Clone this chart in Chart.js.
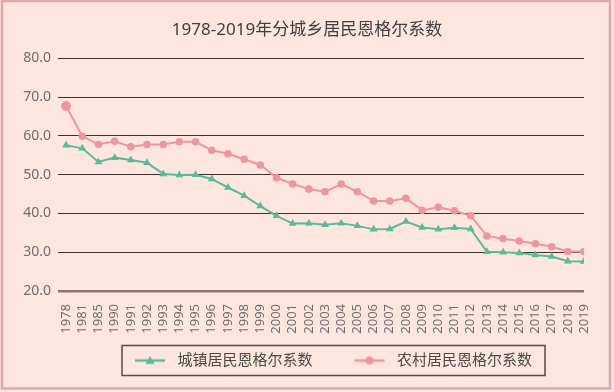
<!DOCTYPE html>
<html>
<head>
<meta charset="utf-8">
<script src="https://cdn.jsdelivr.net/npm/chart.js@4/dist/chart.umd.min.js"></script>
<style>
  html, body { margin: 0; padding: 0; background: #fce6dd; }
  #c { display: block; }
</style>
</head>
<body>
<canvas id="c" width="614" height="392"></canvas>
<script>
// ── DATA ──
const years = ['1978','1981','1985','1990','1991','1992','1993','1994','1995','1996','1997',
  '1998','1999','2000','2001','2002','2003','2004','2005','2006','2007','2008','2009',
  '2010','2011','2012','2013','2014','2015','2016','2017','2018','2019'];
const urban = [57.6, 56.8, 53.3, 54.4, 53.8, 53.1, 50.2, 49.9, 50.0, 48.9, 46.7,
  44.6, 41.9, 39.4, 37.4, 37.5, 37.1, 37.5, 36.8, 35.9, 36.0, 37.9, 36.4,
  35.9, 36.3, 36.0, 30.1, 30.0, 29.8, 29.3, 28.9, 27.7, 27.6];
const rural = [67.7, 59.9, 57.8, 58.6, 57.2, 57.8, 57.8, 58.5, 58.5, 56.3, 55.4,
  54.0, 52.5, 49.2, 47.6, 46.3, 45.6, 47.6, 45.6, 43.2, 43.2, 43.9, 40.8,
  41.6, 40.7, 39.4, 34.2, 33.5, 32.9, 32.2, 31.4, 30.2, 30.2];
const seriesNames = ['城镇居民恩格尔系数', '农村居民恩格尔系数'];
const yMin = 20, yMax = 80, yStep = 10;

const TEAL = '#5bbb98';
const PINK = '#ec979f';
const FONT = '"Noto Sans", "Noto Sans CJK SC", sans-serif';

// legend marker: short line with the point symbol in the middle
function legendMark(color, shape) {
  const cv = document.createElement('canvas');
  cv.width = 60; cv.height = 12;
  const g = cv.getContext('2d');
  g.strokeStyle = color; g.lineWidth = 2.5;
  g.beginPath(); g.moveTo(25, 6); g.lineTo(55, 6); g.stroke();
  g.fillStyle = color;
  g.beginPath();
  if (shape === 'triangle') { g.moveTo(40, 1.5); g.lineTo(44.5, 9.5); g.lineTo(35.5, 9.5); g.closePath(); }
  else g.arc(40, 6, 4, 0, Math.PI * 2);
  g.fill();
  return cv;
}

// ── BACKGROUND + FRAME + LEGEND BOX ──
const framePlugin = {
  id: 'frame',
  beforeDraw(chart) {
    const c = chart.ctx;
    c.save();
    c.fillStyle = '#fce6dd';
    c.fillRect(0, 0, chart.width, chart.height);
    c.strokeStyle = '#dca9a8'; c.lineWidth = 2.5;
    c.strokeRect(2, 1, 608, 387.5);
    c.restore();
  },
  afterDraw(chart) {
    const hb = chart.legend && chart.legend.legendHitBoxes;
    if (!hb || !hb.length) return;
    const l = hb[0].left + 12;
    const r = hb[hb.length - 1].left + hb[hb.length - 1].width + 13;
    const cy = hb[0].top + hb[0].height / 2;
    const c = chart.ctx;
    c.save();
    c.strokeStyle = '#5b4a46'; c.lineWidth = 1.5;
    c.strokeRect(l, cy - 15, r - l, 30);
    c.restore();
  }
};

new Chart(document.getElementById('c'), {
  type: 'line',
  data: {
    datasets: [
      { label: seriesNames[0], data: urban.map((v, i) => ({ x: i, y: v })),
        borderColor: TEAL, backgroundColor: TEAL, borderWidth: 2,
        pointStyle: 'triangle', pointRadius: 4.5, pointBorderWidth: 0, tension: 0 },
      { label: seriesNames[1], data: rural.map((v, i) => ({ x: i, y: v })),
        borderColor: PINK, backgroundColor: PINK, borderWidth: 2,
        pointStyle: 'circle', pointRadius: c => c.dataIndex === 0 ? 5 : 3.8, pointBorderWidth: 0, tension: 0 }
    ]
  },
  options: {
    responsive: false, animation: false,
    layout: { padding: { left: 0, right: 0, top: 0, bottom: 14 } },
    plugins: {
      title: { display: true, text: '1978-2019年分城乡居民恩格尔系数', color: '#404040',
        font: { family: FONT, size: 17, weight: 'normal' }, padding: { top: 20, bottom: 18 } },
      tooltip: { enabled: false },
      legend: { position: 'bottom', fullSize: false,
        labels: { color: '#4a4a4a', font: { family: FONT, size: 15 }, padding: 17,
          usePointStyle: true, pointStyleWidth: 60,
          generateLabels: chart => chart.data.datasets.map((d, i) => ({
            text: d.label, fontColor: '#4a4a4a', datasetIndex: i, lineWidth: 0,
            pointStyle: legendMark(d.borderColor, i === 0 ? 'triangle' : 'circle')
          })) } }
    },
    scales: {
      x: { type: 'linear', min: -0.5, max: years.length - 1,
        afterBuildTicks: s => { s.ticks = years.map((y, i) => ({ value: i })); },
        afterFit: s => { s.height = 45; },
        grid: { display: false }, border: { display: false },
        ticks: { autoSkip: false, minRotation: 90, maxRotation: 90, padding: 5,
          color: '#6e6e6e', font: { family: FONT, size: 13 },
          callback: v => years[v] } },
      y: { min: yMin, max: yMax,
        afterFit: s => { s.width = 58; },
        border: { display: false },
        grid: { drawTicks: false,
          color: c => c.tick.value === yMin ? '#8d746e' : '#3e302c',
          lineWidth: c => c.tick.value === yMin ? 2.5 : 1 },
        ticks: { stepSize: yStep, padding: 7, color: '#6e6e6e',
          font: { family: FONT, size: 14 }, callback: v => v.toFixed(1) } },
      // empty right-hand margin so the title centres on the whole picture
      yRight: { position: 'right', min: yMin, max: yMax,
        afterFit: s => { s.width = 30; },
        grid: { display: false }, border: { display: false }, ticks: { display: false } }
    }
  },
  plugins: [framePlugin]
});
</script>
</body>
</html>
